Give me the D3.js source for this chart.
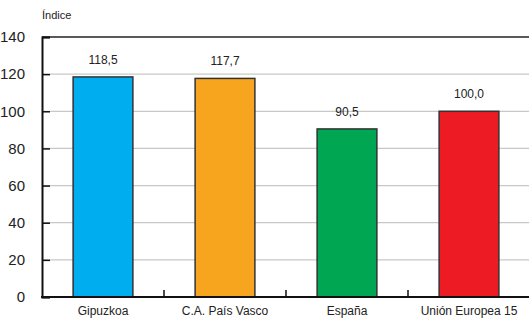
<!DOCTYPE html>
<html><head><meta charset="utf-8">
<script src="https://cdn.jsdelivr.net/npm/d3@7"></script>
<style>body{margin:0;background:#fff}svg{display:block}</style>
</head><body>
<script>
const categories = ["Gipuzkoa", "C.A. País Vasco", "España", "Unión Europea 15"];
const values = [118.5, 117.7, 90.5, 100.0];
const valueLabels = ["118,5", "117,7", "90,5", "100,0"];
const colors = ["#00AEEF", "#F7A51E", "#00A651", "#ED1C24"];
const yTicks = [0, 20, 40, 60, 80, 100, 120, 140];
const yTitle = "Índice";

const W = 529, H = 318;
const m = {left: 42, right: -1, top: 37, bottom: 21};
const svg = d3.select("body").append("svg").attr("width", W).attr("height", H);
const x = d3.scaleBand().domain(categories).range([m.left, W - m.right]).paddingInner(0).paddingOuter(0);
const y = d3.scaleLinear().domain([0, 140]).range([H - m.bottom, m.top]);
const font = "Arial, 'Liberation Sans', sans-serif";

// gridlines
svg.append("g").selectAll("line").data(yTicks.filter(d => d > 0 && d < 140)).join("line")
  .attr("x1", m.left).attr("x2", W).attr("y1", d => y(d)).attr("y2", d => y(d))
  .attr("stroke", "#c8c8c8").attr("stroke-width", 1.2);
// top border
svg.append("line").attr("x1", m.left).attr("x2", W).attr("y1", y(140)).attr("y2", y(140))
  .attr("stroke", "#222").attr("stroke-width", 1.5);

// bars
const bw = x.bandwidth() * 0.49;
svg.append("g").selectAll("rect").data(categories).join("rect")
  .attr("x", d => x(d) + (x.bandwidth() - bw) / 2)
  .attr("y", (d, i) => y(values[i]))
  .attr("width", bw)
  .attr("height", (d, i) => y(0) - y(values[i]))
  .attr("fill", (d, i) => colors[i])
  .attr("stroke", "#333").attr("stroke-width", 1.5);

// value labels
svg.append("g").selectAll("text").data(categories).join("text")
  .attr("x", d => x(d) + x.bandwidth() / 2)
  .attr("y", (d, i) => y(values[i]) - 13)
  .attr("text-anchor", "middle").attr("font-family", font).attr("font-size", 12).attr("fill", "#222")
  .text((d, i) => valueLabels[i]);

// y axis
const ya = svg.append("g").attr("transform", `translate(${m.left},0)`)
  .call(d3.axisLeft(y).tickValues(yTicks).tickSize(-8).tickPadding(17).tickFormat(d3.format("d")));
ya.select(".domain").attr("stroke", "#111").attr("stroke-width", 2);
ya.selectAll(".tick line").attr("stroke", "#111").attr("stroke-width", 1.5);
ya.selectAll(".tick text").attr("font-family", font).attr("font-size", 15).attr("fill", "#222");

// x axis
const xa = svg.append("g").attr("transform", `translate(0,${y(0)})`)
  .call(d3.axisBottom(x).tickSize(0).tickPadding(9));
xa.select(".domain").remove();
xa.selectAll(".tick text").attr("font-family", font).attr("font-size", 12).attr("fill", "#222");
svg.append("line").attr("x1", m.left - 1).attr("x2", W).attr("y1", y(0)).attr("y2", y(0))
  .attr("stroke", "#111").attr("stroke-width", 2);
// separator ticks
svg.append("g").selectAll("line").data(categories.slice(1)).join("line")
  .attr("x1", d => x(d)).attr("x2", d => x(d)).attr("y1", y(0)).attr("y2", y(0) - 7)
  .attr("stroke", "#111").attr("stroke-width", 1.5);

// title
svg.append("text").attr("x", m.left).attr("y", 19).attr("font-family", font).attr("font-size", 11)
  .attr("fill", "#222").text(yTitle);
</script>
</body></html>
